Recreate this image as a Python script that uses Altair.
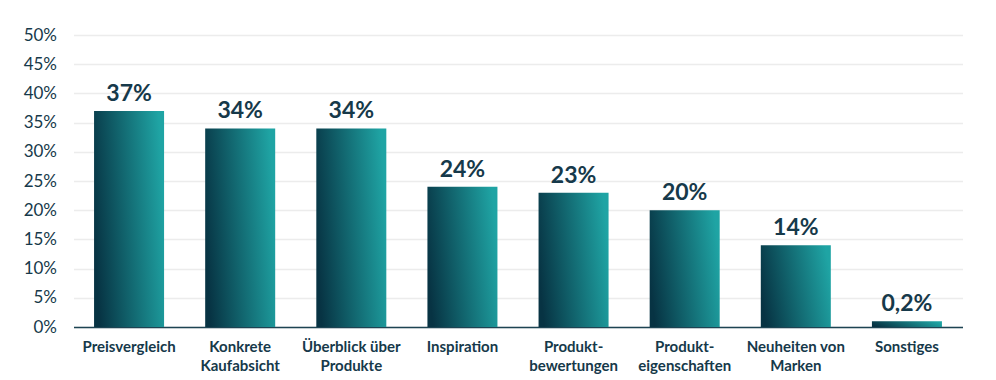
import altair as alt
import pandas as pd

categories = ["Preisvergleich", "Konkrete|Kaufabsicht", "Überblick über|Produkte", "Inspiration",
              "Produkt-|bewertungen", "Produkt-|eigenschaften", "Neuheiten von|Marken", "Sonstiges"]
# bar heights as drawn (the last bar is drawn at about 1%)
values = [37, 34, 34, 24, 23, 20, 14, 1.0]
labels = ["37%", "34%", "34%", "24%", "23%", "20%", "14%", "0,2%"]
y_ticks = [0, 5, 10, 15, 20, 25, 30, 35, 40, 45, 50]

df = pd.DataFrame({"cat": categories, "val": values, "lab": labels})

TEXT = "#16394a"
FONT = "Lato"

grad = alt.Gradient(
    gradient="linear",
    stops=[alt.GradientStop(color="#073343", offset=0),
           alt.GradientStop(color="#1fa4a4", offset=1)],
    x1=0, y1=0.6, x2=1, y2=0.4,
)

x = alt.X("cat:N", sort=categories, title=None,
          scale=alt.Scale(paddingInner=0.37, paddingOuter=0.185),
          axis=alt.Axis(labelExpr="split(datum.value, '|')", labelAngle=0,
                        labelFont=FONT, labelFontSize=15, labelFontWeight="bold",
                        labelColor=TEXT, labelPadding=12, labelLineHeight=19,
                        ticks=False, domainColor="#1d4453", domainWidth=1.5,
                        labelBaseline="top"))
y = alt.Y("val:Q", title=None,
          scale=alt.Scale(domain=[0, 50], nice=False),
          axis=alt.Axis(values=y_ticks, labelExpr="datum.value + '%'",
                        labelFont=FONT, labelFontSize=17, labelColor=TEXT,
                        labelPadding=17, ticks=False, domain=False, labelOverlap=False,
                        gridColor="#ececec", gridWidth=1.5))

bars = alt.Chart(df).mark_bar(color=grad).encode(x=x, y=y)
text = alt.Chart(df).mark_text(baseline="bottom", dy=-5, font=FONT, fontSize=23,
                               fontWeight="bold", color=TEXT).encode(
    x=x, y=y, text="lab:N")

chart = (bars + text).properties(
    width=889, height=292,
    autosize=alt.AutoSizeParams(type="none"),
    padding={"left": 65.5, "top": 27, "right": 20, "bottom": 50},
).configure_view(stroke=None)

chart.save("out.html", embed_options={"renderer": "svg", "actions": False})
